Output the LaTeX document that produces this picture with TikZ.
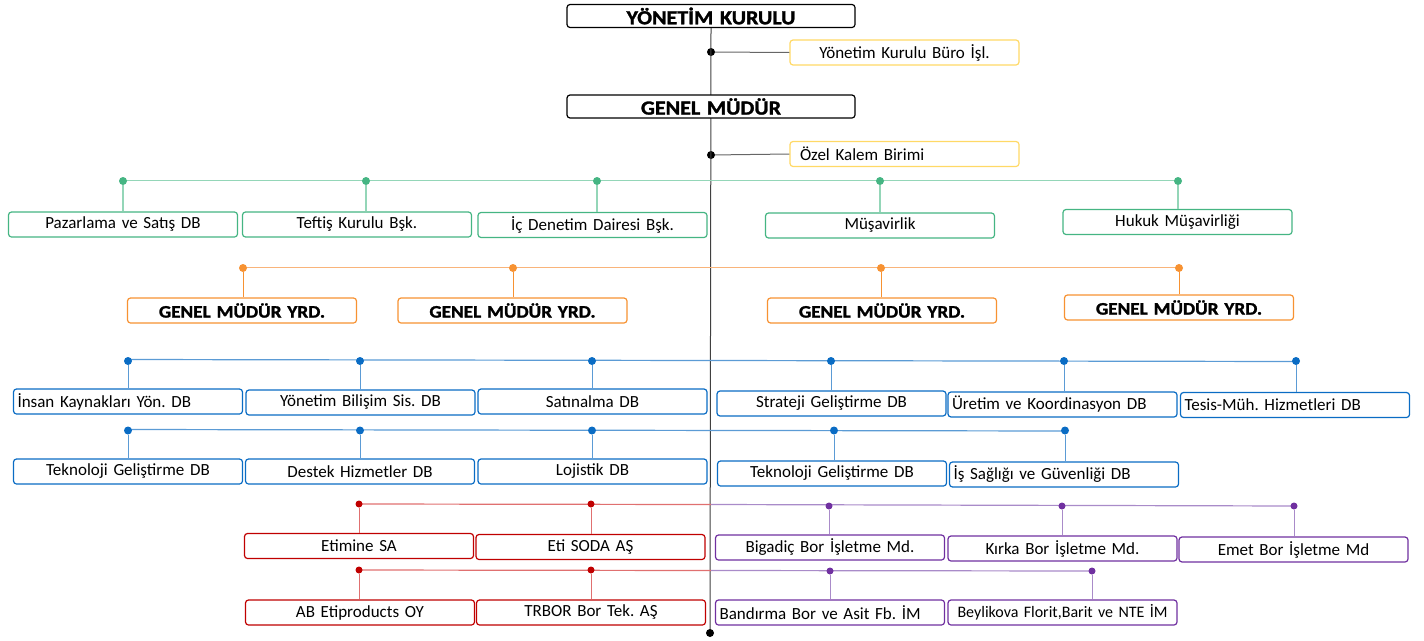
\documentclass[tikz,border=0pt]{standalone}
\usepackage{fontspec}
\setmainfont{Carlito}
\newfontfamily\headfont[FakeBold=1.5, FakeStretch=1.1]{Carlito}
\usetikzlibrary{positioning}

\definecolor{ylw}{HTML}{FFD966}
\definecolor{grn}{HTML}{45B583}
\definecolor{grnl}{HTML}{94D6B8}
\definecolor{org}{HTML}{F79232}
\definecolor{orgl}{HTML}{F9B47A}
\definecolor{blu}{HTML}{0A6CC4}
\definecolor{blul}{HTML}{5B9BD5}
\definecolor{rd}{HTML}{C00000}
\definecolor{rdl}{HTML}{E07070}
\definecolor{prp}{HTML}{7030A0}
\definecolor{prpl}{HTML}{A98BC9}

\tikzset{
  box/.style={draw, rounded corners=3pt, line width=1.2pt, fill=white,
    minimum height=25pt, text width=221pt, inner xsep=4pt, inner ysep=0pt,
    align=center, font=\fontsize{17}{20}\selectfont\frenchspacing},
  lbox/.style={box, align=left},
  nbox/.style={box, text width=225pt, inner xsep=2pt,
    font=\fontsize{16}{20}\selectfont\frenchspacing},
  head/.style={box, draw=black, text width=280pt, minimum height=23pt,
    font=\fontsize{20}{20}\selectfont\headfont\bfseries},
  yrd/.style={box, draw=org, font=\fontsize{17.5}{20}\selectfont\headfont\bfseries},
  dot/.style={circle, fill, inner sep=0pt, minimum size=8pt},
}

\begin{document}
\begin{tikzpicture}[x=1pt, y=-1pt]
\useasboundingbox (0,0) rectangle (1424,640);

% main line
\node[head] (yk) at (711,16) {YÖNETİM KURULU};
\node[dot, black] (d1) at (711,52) {};
\node[dot, black] (d2) at (711,155) {};
\node[dot, black] (dend) at (710,633) {};
\draw [black!75, line width=1pt] (yk.south) -- (dend);
\node[head] (gm) at (711,106.5) {GENEL MÜDÜR};
\node[box, draw=ylw] (ykb) at (904.5,52.5) {Yönetim Kurulu Büro İşl.};
\node[lbox, draw=ylw] (ozk) at (904.5,154) {\hspace{6pt}Özel Kalem Birimi};
\draw [black!60, line width=1pt] (d1) -- (ykb.west);
\draw [black!60, line width=1pt] (d2) -- (ozk.west);

% green row
\draw [grnl, line width=1.5pt] (123,180.5) -- (1178,180.5);
\foreach \n/\dx/\bx/\by/\t in {pzr/123/123/224.5/Pazarlama ve Satış DB,
    tft/366/357/224.5/Teftiş Kurulu Bşk., icd/597/592.5/225/İç Denetim Dairesi Bşk.,
    msv/880/880/225.5/Müşavirlik, hkk/1178/1177.5/222/Hukuk Müşavirliği} {
  \node[dot, grn] (d\n) at (\dx,181) {};
  \node[box, draw=grn] (\n) at (\bx,\by) {\t};
  \draw [grnl, line width=1.5pt] (d\n) -- (d\n |- \n.north);
}

% orange row
\draw [orgl, line width=1.2pt] (243,267.5) -- (1179,267.5);
\foreach \n/\dx/\bx/\by in {gy1/243/242/310.5, gy2/513/512.5/310.5,
    gy3/881/882/310.5, gy4/1179/1179/307.5} {
  \node[dot, org] (d\n) at (\dx,268) {};
  \node[yrd] (\n) at (\bx,\by) {GENEL MÜDÜR YRD.};
  \draw [org, line width=1pt] (d\n) -- (d\n |- \n.north);
}

% blue rows
\draw [blul, line width=1.2pt] (128,359.5) -- (1296,361.5);
\foreach \n/\dx/\bx/\by/\st/\t in {iky/128/128/401.5/lbox/İnsan Kaynakları Yön. DB,
    ybs/360/360.5/402.5/box/Yönetim Bilişim Sis. DB, stn/592/592.5/401.5/box/Satınalma DB,
    stj/831/831.5/403.5/box/Strateji Geliştirme DB,
    urt/1064/1062.5/404.5/lbox/Üretim ve Koordinasyon DB,
    tsh/1296/1295/405/lbox/Tesis-Müh. Hizmetleri DB} {
  \node[dot, blu] (d\n) at (\dx,361) {};
  \node[\st, draw=blu] (\n) at (\bx,\by) {\t};
  \draw [blul, line width=1pt] (d\n) -- (d\n |- \n.north);
}
\draw [blul, line width=1.2pt] (128,429.5) -- (1065,431);
\foreach \n/\dx/\bx/\by/\st/\t in {tkg/128/128/471.5/box/Teknoloji Geliştirme DB,
    dst/360/360/471.5/box/Destek Hizmetler DB, ljs/592/592.5/471.5/box/Lojistik DB,
    tkgb/834/832/473.5/box/Teknoloji Geliştirme DB,
    isg/1065/1064/474.5/lbox/İş Sağlığı ve Güvenliği DB} {
  \node[dot, blu] (d\n) at (\dx,430.5) {};
  \node[\st, draw=blu] (\n) at (\bx,\by) {\t};
  \draw [blul, line width=1pt] (d\n) -- (d\n |- \n.north);
}

% companies
\coordinate (m1) at (711,504.5);
\coordinate (m2) at (711,570.5);
\draw [rdl, line width=1.2pt] (359,504) -- (m1);
\draw [prpl, line width=1.2pt] (m1) -- (1294,506);
\draw [rdl, line width=1.2pt] (359,570) -- (m2);
\draw [prpl, line width=1.2pt] (m2) -- (1092,571);
\foreach \n/\dx/\dy/\bx/\by/\c/\cl/\st/\t in {
    etm/359/504/359/546/rd/rdl/box/Etimine SA,
    eso/591/504/590.5/547/rd/rdl/box/Eti SODA AŞ,
    bgd/829/506/830/547.5/prp/prpl/box/Bigadiç Bor İşletme Md.,
    krk/1062/506/1062.5/548.5/prp/prpl/box/Kırka Bor İşletme Md.,
    emt/1294/506/1293.5/549.5/prp/prpl/box/Emet Bor İşletme Md,
    abe/359/570/360/612.5/rd/rdl/box/AB Etiproducts OY,
    trb/591/570/591/612.5/rd/rdl/box/TRBOR Bor Tek. AŞ,
    bnd/830/571/830/612.5/prp/prpl/lbox/Bandırma Bor ve Asit Fb. İM,
    bly/1092/571/1062.5/612.5/prp/prpl/nbox/{Beylikova Florit,Barit ve NTE İM}} {
  \node[dot, \c, minimum size=7pt] (d\n) at (\dx,\dy) {};
  \node[\st, draw=\c] (\n) at (\bx,\by) {\t};
  \draw [\cl, line width=1pt] (d\n) -- (d\n |- \n.north);
}
\end{tikzpicture}
\end{document}
